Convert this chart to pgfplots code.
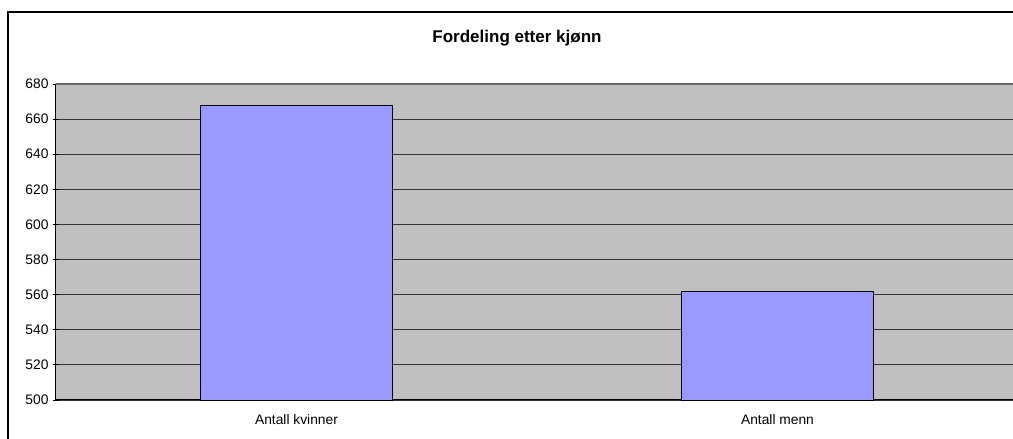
\documentclass[border=0pt]{standalone}
\usepackage{pgfplots}
\pgfplotsset{compat=1.18}
\usepackage{fontspec}
\setmainfont{Liberation Sans}
\definecolor{plotbg}{HTML}{C0C0C0}
\definecolor{barblue}{HTML}{9999FF}
\begin{document}
\begin{tikzpicture}[x=1pt,y=1pt]
\path[use as bounding box, clip] (0,0) rectangle (1013,439);
\fill[white] (0,0) rectangle (1013,439);
\draw[black, line width=1.2pt] (8,-20) rectangle (1040,427);
\node[font=\bfseries\fontsize{17}{19}\selectfont] at (517,400.5) {Fordeling etter kjønn};
\begin{axis}[
  at={(56pt,39pt)}, anchor=south west,
  scale only axis, width=962pt, height=316pt,
  xmin=-0.5, xmax=1.5, ymin=500, ymax=680,
  ytick={500,520,...,680},
  xtick={0,1},
  xticklabels={Antall kvinner, Antall menn},
  major x tick style={draw=none},
  extra x ticks={0.5},
  extra x tick labels={},
  extra x tick style={grid=none, major tick length=5pt, tick align=outside, tick style={draw=gray!70!black, line width=1pt}},
  ymajorgrids,
  major grid style={black!80, line width=0.9pt},
  major tick length=6pt,
  tick align=outside,
  y tick style={black, line width=0.8pt},
  axis lines=left,
  axis line style={-, black, line width=1pt},
  axis background/.style={fill=plotbg},
  /pgf/number format/assume math mode=true,
  tick label style={font=\fontsize{13.8}{16}\selectfont},
  yticklabel style={xshift=-1pt},
  xticklabel style={yshift=-5pt},
  ybar, bar width=192pt,
  clip=false,
]
\addplot[fill=barblue, draw=black, line width=0.8pt] coordinates {(0,668) (1,562)};
\draw[gray!80!black, line width=1.2pt] (rel axis cs:0,1) -- (rel axis cs:1,1);
\end{axis}
\end{tikzpicture}
\end{document}
